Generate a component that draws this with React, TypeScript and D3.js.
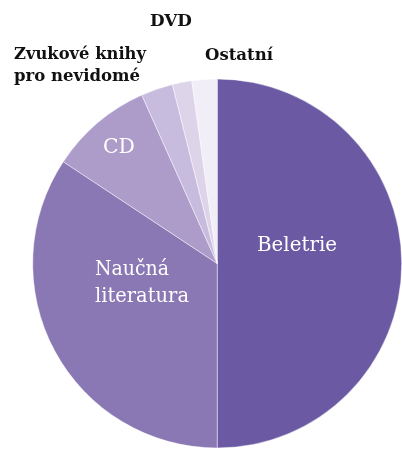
import React from "react";
import * as d3 from "d3";

const categories = ["Beletrie", "Naučná literatura", "CD", "Zvukové knihy pro nevidomé", "DVD", "Ostatní"];
const values = [50, 34.3, 9.0, 2.8, 1.7, 2.2];
const colors = ["#6B5AA3", "#8A78B4", "#AD9BCA", "#C8BCDE", "#DDD4EA", "#F2EEF7"];

const W = 402;
const H = 449;
const CX = 217.2;
const CY = 263.5;
const R = 184.5;

type Label = { lines: string[]; x: number; y: number; anchor: string; fill: string; size: number; weight: string; lh: number; family: string; widths?: number[] };

const labels: Label[] = [
  { lines: ["Beletrie"], x: 297, y: 251, anchor: "middle", fill: "#fff", size: 20, weight: "normal", lh: 26, family: "'DejaVu Serif', serif", widths: [80] },
  { lines: ["Naučná", "literatura"], x: 95, y: 275, anchor: "start", fill: "#fff", size: 20, weight: "normal", lh: 26.5, family: "'DejaVu Serif', serif", widths: [74, 94] },
  { lines: ["CD"], x: 119, y: 153, anchor: "middle", fill: "#fff", size: 20, weight: "normal", lh: 26, family: "'DejaVu Serif', serif", widths: [32] },
  { lines: ["Zvukové knihy", "pro nevidomé"], x: 14, y: 59, anchor: "start", fill: "#111", size: 17.5, weight: "bold", lh: 21.5, family: "'DejaVu Serif Condensed', 'DejaVu Serif', serif", widths: [132, 126] },
  { lines: ["DVD"], x: 171, y: 26, anchor: "middle", fill: "#111", size: 17.5, weight: "bold", lh: 21, family: "'DejaVu Serif Condensed', 'DejaVu Serif', serif", widths: [42] },
  { lines: ["Ostatní"], x: 205, y: 59.5, anchor: "start", fill: "#111", size: 17.5, weight: "bold", lh: 21, family: "'DejaVu Serif Condensed', 'DejaVu Serif', serif", widths: [68] },
];

export default function App() {
  const pie = d3.pie<number>().sort(null).value((d) => d);
  const arcs = pie(values);
  const arc = d3.arc<d3.PieArcDatum<number>>().innerRadius(0).outerRadius(R);
  return (
    <div style={{ position: "fixed", left: 0, top: 0 }}>
      <svg width={W} height={H} style={{ display: "block" }}>
        <g transform={`translate(${CX},${CY})`}>
          {arcs.map((a, i) => (
            <path key={categories[i]} d={arc(a) || ""} fill={colors[i]} stroke="#ffffff" strokeOpacity={0.55} strokeWidth={0.8} />
          ))}
        </g>
        {labels.map((l, i) => (
          <text
            key={i}
            x={l.x}
            y={l.y}
            textAnchor={l.anchor}
            fill={l.fill}
            fontFamily={l.family}
            fontSize={l.size}
            fontWeight={l.weight}
          >
            {l.lines.map((t, j) => (
              <tspan key={j} x={l.x} y={l.y + j * l.lh} textLength={l.widths ? l.widths[j] : undefined} lengthAdjust="spacingAndGlyphs">
                {t}
              </tspan>
            ))}
          </text>
        ))}
      </svg>
    </div>
  );
}
